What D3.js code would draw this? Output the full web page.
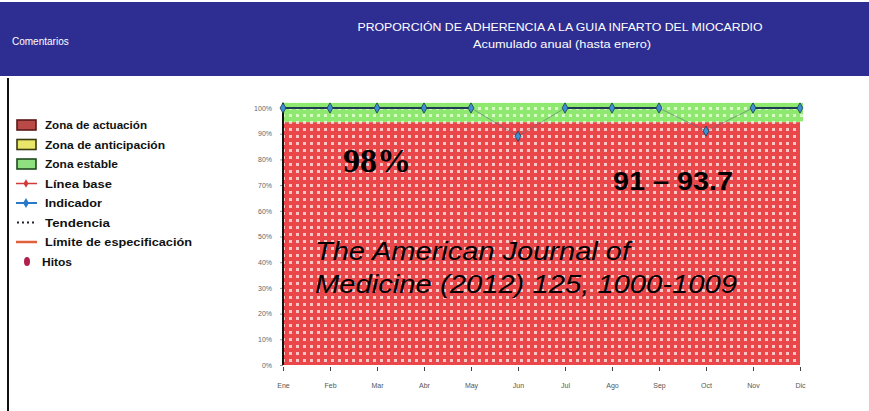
<!DOCTYPE html>
<html>
<head>
<meta charset="utf-8">
<script src="https://cdn.jsdelivr.net/npm/d3@7"></script>
<style>
html,body{margin:0;padding:0;background:#fff;}
svg{display:block;}
</style>
</head>
<body>
<svg id="c" width="869" height="411"></svg>
<script>
// ---------- data ----------
const months = ["Ene","Feb","Mar","Abr","May","Jun","Jul","Ago","Sep","Oct","Nov","Dic"];
const indicador = [100,100,100,100,100,89,100,100,100,91,100,100];
const yTicks = [0,10,20,30,40,50,60,70,80,90,100];
const zonaActuacion = [0, 94.5];
const zonaEstable = [94.5, 102];
const legendLabels = ["Zona de actuación","Zona de anticipación","Zona estable","Línea base","Indicador","Tendencia","Límite de especificación","Hitos"];
const headerLeft = "Comentarios";
const title = "PROPORCIÓN DE ADHERENCIA A LA GUIA INFARTO DEL MIOCARDIO";
const subtitle = "Acumulado anual (hasta enero)";
const noteMain = "98%";
const noteRange = "91 – 93.7";
const citation = ["The American Journal of","Medicine (2012) 125, 1000-1009"];

// ---------- drawing ----------
const svg = d3.select("#c");
const defs = svg.append("defs");

function checker(id, base, light){
  const p = defs.append("pattern").attr("id",id).attr("patternUnits","userSpaceOnUse")
    .attr("width",7).attr("height",7);
  p.append("rect").attr("width",7).attr("height",7).attr("fill",base);
  p.append("rect").attr("x",2).attr("y",2).attr("width",3).attr("height",3).attr("fill",light);
}
checker("redPat","#ea474b","#f9c6c6");
checker("greenPat","#8fe86f","#d8fbc8");

svg.append("rect").attr("width",869).attr("height",411).attr("fill","#fff");

// header
svg.append("rect").attr("x",0).attr("y",2).attr("width",869).attr("height",74).attr("fill","#2e2e92");
svg.append("text").attr("x",12).attr("y",45).attr("fill","#fff")
  .attr("font-family","Liberation Sans, Arial").attr("font-size",10).text(headerLeft);
svg.append("text").attr("x",560).attr("y",31).attr("fill","#fff").attr("text-anchor","middle")
  .attr("font-family","Liberation Sans, Arial").attr("font-size",10.5)
  .attr("textLength",405).attr("lengthAdjust","spacingAndGlyphs").text(title);
svg.append("text").attr("x",562).attr("y",48).attr("fill","#fff").attr("text-anchor","middle")
  .attr("font-family","Liberation Sans, Arial").attr("font-size",10.5)
  .attr("textLength",178).attr("lengthAdjust","spacingAndGlyphs").text(subtitle);

// left border
svg.append("line").attr("x1",8).attr("x2",8).attr("y1",78).attr("y2",411)
  .attr("stroke","#111").attr("stroke-width",2);

// scales
const x = d3.scalePoint().domain(months).range([283, 800]);
const y = d3.scaleLinear().domain([0,100]).range([365,108]);

// zones
const g = svg.append("g");
g.append("rect").attr("x",x(months[0])).attr("width",x(months[months.length-1])-x(months[0]))
  .attr("y",y(zonaActuacion[1])).attr("height",y(zonaActuacion[0])-y(zonaActuacion[1]))
  .attr("fill","url(#redPat)");
g.append("rect").attr("x",x(months[0])).attr("width",x(months[months.length-1])-x(months[0])+3)
  .attr("y",y(zonaEstable[1])).attr("height",y(zonaEstable[0])-y(zonaEstable[1]))
  .attr("fill","url(#greenPat)");

// y axis
const yAxis = d3.axisLeft(y).tickValues(yTicks).tickFormat(d=>d+"%").tickSize(3).tickPadding(8);
const ya = svg.append("g").attr("transform",`translate(${x(months[0])},0)`).call(yAxis);
ya.select(".domain").remove();
ya.selectAll("text").attr("fill","#666").attr("font-size",7).attr("font-family","Liberation Sans, Arial");
ya.selectAll(".tick line").attr("stroke","#999");
svg.append("line").attr("x1",x(months[0])).attr("x2",x(months[0]))
  .attr("y1",y(zonaEstable[1])).attr("y2",y(0)).attr("stroke","#111").attr("stroke-width",2);

// x axis
const xAxis = d3.axisBottom(x).tickSize(4).tickPadding(12);
const xa = svg.append("g").attr("transform",`translate(0,${y(0)+2})`).call(xAxis);
xa.select(".domain").remove();
xa.selectAll(".tick line").attr("stroke","#444");
xa.selectAll("text").attr("fill","#555").attr("font-size",7).attr("font-family","Liberation Sans, Arial");

// indicator line (segments)
const pts = months.map((m,i)=>({m, v:indicador[i]}));
const segs = d3.pairs(pts);
svg.append("g").selectAll("line").data(segs).join("line")
  .attr("x1",d=>x(d[0].m)).attr("y1",d=>y(d[0].v))
  .attr("x2",d=>x(d[1].m)).attr("y2",d=>y(d[1].v))
  .attr("stroke",d=>(d[0].v===100&&d[1].v===100)?"#1d3b52":"#5a6a7a")
  .attr("stroke-width",d=>(d[0].v===100&&d[1].v===100)?2.2:1)
  .attr("stroke-opacity",d=>(d[0].v===100&&d[1].v===100)?1:0.55);
svg.append("g").selectAll("path").data(pts).join("path")
  .attr("transform",d=>`translate(${x(d.m)},${y(d.v)})`)
  .attr("d",d3.symbol(d3.symbolDiamond,30)())
  .attr("fill","#3c8fd0").attr("stroke","#1d3b52").attr("stroke-width",0.8);

// annotations
svg.append("text").attr("x",343).attr("y",172).attr("font-family","Liberation Serif, Times New Roman")
  .attr("font-weight","bold").attr("font-size",34).attr("fill","#000").text(noteMain);
svg.append("text").attr("x",613).attr("y",190).attr("font-family","Liberation Sans, Arial")
  .attr("font-weight","bold").attr("font-size",26).attr("fill","#000")
  .attr("textLength",120).attr("lengthAdjust","spacingAndGlyphs").text(noteRange);
const citW = [315, 422];
svg.append("g").selectAll("text").data(citation).join("text")
  .attr("x",315).attr("y",(d,i)=>260+i*33)
  .attr("font-family","Liberation Sans, Arial").attr("font-style","italic")
  .attr("font-size",26).attr("fill","#000")
  .attr("textLength",(d,i)=>citW[i]).attr("lengthAdjust","spacingAndGlyphs").text(d=>d);

// legend
const lg = svg.append("g").attr("transform","translate(0,125)");
const rows = lg.selectAll("g").data(legendLabels).join("g")
  .attr("transform",(d,i)=>`translate(0,${i*19.5})`);
rows.append("text").attr("x",(d,i)=>i===7?42:45).attr("y",4).attr("font-family","Liberation Sans, Arial")
  .attr("font-size",11).attr("font-weight","bold").attr("fill","#111")
  .attr("textLength",(d,i)=>[102,120,73,67,57,65,147,30][i]).attr("lengthAdjust","spacingAndGlyphs")
  .text(d=>d);
const sw = [["#b94a48","#5a1a18"],["#e9e66a","#3a3a10"],["#8fe07f","#1f4a1f"]];
rows.filter((d,i)=>i<3).append("rect").attr("x",17).attr("y",-5).attr("width",19).attr("height",10)
  .attr("fill",(d,i)=>sw[i][0]).attr("stroke",(d,i)=>sw[i][1]).attr("stroke-width",1.6);
// línea base
const r3 = rows.filter((d,i)=>i===3);
r3.append("line").attr("x1",16).attr("x2",37).attr("y1",0).attr("y2",0).attr("stroke","#d23a3a").attr("stroke-width",1.5);
r3.append("path").attr("transform","translate(26,0)").attr("d",d3.symbol(d3.symbolDiamond,22)()).attr("fill","#d23a3a");
// indicador
const r4 = rows.filter((d,i)=>i===4);
r4.append("line").attr("x1",16).attr("x2",37).attr("y1",0).attr("y2",0).attr("stroke","#2a78c8").attr("stroke-width",2);
r4.append("path").attr("transform","translate(26,0)").attr("d",d3.symbol(d3.symbolDiamond,30)()).attr("fill","#2a78c8");
// tendencia
rows.filter((d,i)=>i===5).append("line").attr("x1",17).attr("x2",37).attr("y1",0).attr("y2",0)
  .attr("stroke","#223").attr("stroke-width",1.8).attr("stroke-dasharray","2,3");
// límite
rows.filter((d,i)=>i===6).append("line").attr("x1",16).attr("x2",37).attr("y1",0).attr("y2",0)
  .attr("stroke","#e0603a").attr("stroke-width",2.5);
// hitos
rows.filter((d,i)=>i===7).append("ellipse").attr("cx",27).attr("cy",0).attr("rx",3).attr("ry",4.5).attr("fill","#b0204a");
</script>
</body>
</html>
